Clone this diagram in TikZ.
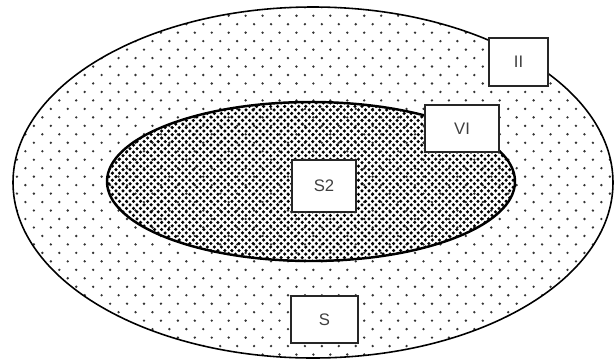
\documentclass[tikz,border=0pt]{standalone}
\usepackage{fontspec}
\setmainfont{Liberation Sans}
\usepackage{tikz}
\usetikzlibrary{patterns,positioning}

% sparse staggered dots for the outer region
\pgfdeclarepatternformonly{sparsedots}{\pgfpoint{-1pt}{-1pt}}{\pgfpoint{10.6pt}{10.6pt}}{\pgfpoint{9.64pt}{9.64pt}}%
{
  \pgfpathcircle{\pgfpoint{0pt}{0pt}}{0.75pt}
  \pgfpathcircle{\pgfpoint{4.82pt}{4.82pt}}{0.75pt}
  \pgfusepath{fill}
}
% dense staggered dots for the inner region
\pgfdeclarepatternformonly{densedots}{\pgfpoint{-1.5pt}{-1.5pt}}{\pgfpoint{5.5pt}{5.5pt}}{\pgfpoint{4pt}{4pt}}%
{
  \pgfpathcircle{\pgfpoint{0pt}{0pt}}{1pt}
  \pgfpathcircle{\pgfpoint{2pt}{2pt}}{1pt}
  \pgfusepath{fill}
}

\begin{document}
\begin{tikzpicture}[
    every node/.style={align=center},
    region/.style={draw=black, pattern=sparsedots, pattern color=black!80, line width=0.9pt},
    core/.style={draw=black, pattern=densedots, pattern color=black, line width=1.4pt},
    label box/.style={rectangle, draw=black!85, fill=white, line width=1.3pt, text=black!75, font=\fontsize{9.5pt}{10pt}\selectfont}
]
\useasboundingbox (0,0) rectangle (12.32,7.26);

% Regions
\draw[region] (6.26,3.61) ellipse [x radius=6.0, y radius=3.51];
\draw[core] (6.22,3.63) ellipse [x radius=4.08, y radius=1.59];

% Labels
\node[label box, minimum width=1.18cm, minimum height=0.96cm] (ii) at (10.37,6.02) {II};
\node[label box, minimum width=1.48cm, minimum height=0.94cm] (vi) at (9.24,4.69) {VI};
\node[label box, minimum width=1.28cm, minimum height=1.04cm] (s2) at (6.48,3.54) {S2};
\node[label box, minimum width=1.34cm, minimum height=0.94cm] (s) at (6.49,0.87) {S};

\end{tikzpicture}
\end{document}
